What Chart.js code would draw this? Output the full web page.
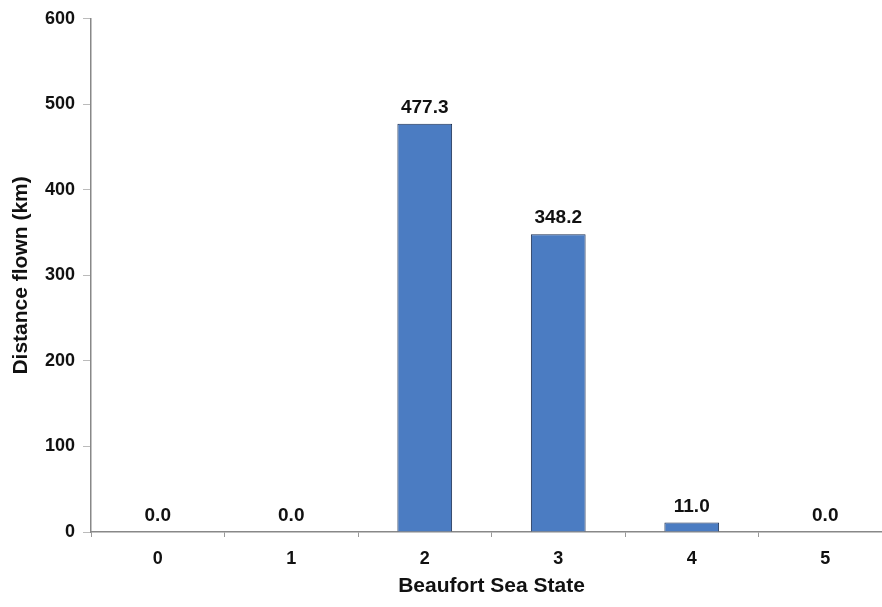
<!DOCTYPE html>
<html>
<head>
<meta charset="utf-8">
<script src="https://cdn.jsdelivr.net/npm/chart.js@4.4.1/dist/chart.umd.min.js"></script>
<style>
  html, body { margin: 0; padding: 0; background: #fff; overflow: hidden; }
  #wrap { width: 892px; height: 607px; }
</style>
</head>
<body>
<div id="wrap"><canvas id="myChart" width="892" height="607"></canvas></div>
<script>
const seaStates = ['0', '1', '2', '3', '4', '5']
const distanceKm = [0.0, 0.0, 477.3, 348.2, 11.0, 0.0]
const yTicks = [0, 100, 200, 300, 400, 500, 600]

const FONT = "'Liberation Sans', Arial, sans-serif"

// value labels above each bar
const barLabels = {
  id: 'barLabels',
  afterDatasetsDraw: function (chart) {
    const ctx = chart.ctx
    const meta = chart.getDatasetMeta(0)
    ctx.save()
    ctx.font = 'bold 19px ' + FONT
    ctx.fillStyle = '#111'
    ctx.textAlign = 'center'
    ctx.textBaseline = 'alphabetic'
    meta.data.forEach(function (bar, i) {
      ctx.fillText(distanceKm[i].toFixed(1), bar.x, bar.y - 11)
    })
    ctx.restore()
  },
}

const ctx = document.getElementById('myChart')
const myChart = new Chart(ctx, {
  type: 'bar',
  data: {
    labels: seaStates,
    datasets: [
      {
        label: 'Distance flown (km)',
        data: distanceKm,
        backgroundColor: '#4b7cc2',
        borderColor: '#1c2f52',
        borderWidth: 1,
        barPercentage: 0.41,
        categoryPercentage: 1,
      },
    ],
  },
  options: {
    responsive: false,
    animation: false,
    layout: { padding: { top: 18, right: 0, bottom: 0, left: 0 } },
    plugins: {
      legend: { display: false },
      tooltip: { enabled: false },
    },
    scales: {
      x: {
        offset: true,
        grid: {
          display: true,
          offset: true,
          drawOnChartArea: false,
          tickLength: 5,
          color: '#999',
        },
        border: { color: '#888', width: 1.5 },
        ticks: {
          color: '#111',
          font: { family: FONT, size: 18, weight: 'bold' },
          padding: 11,
        },
        title: {
          display: true,
          text: 'Beaufort Sea State',
          color: '#111',
          font: { family: FONT, size: 21, weight: 'bold' },
          padding: { top: 2, bottom: 8 },
        },
        afterFit: function (scale) { scale.height = 75 },
      },
      y: {
        min: 0,
        max: 600,
        afterBuildTicks: function (scale) {
          scale.ticks = yTicks.map(function (v) { return { value: v } })
        },
        grid: {
          display: true,
          drawOnChartArea: false,
          tickLength: 8,
          color: '#bbb',
        },
        border: { color: '#888', width: 1.5 },
        ticks: {
          color: '#111',
          font: { family: FONT, size: 18, weight: 'bold' },
          padding: 8,
        },
        title: {
          display: true,
          text: 'Distance flown (km)',
          color: '#111',
          font: { family: FONT, size: 21, weight: 'bold' },
          padding: { top: 9, bottom: 10 },
        },
        afterFit: function (scale) { scale.width = 91 },
      },
    },
  },
  plugins: [barLabels],
})
</script>
</body>
</html>
